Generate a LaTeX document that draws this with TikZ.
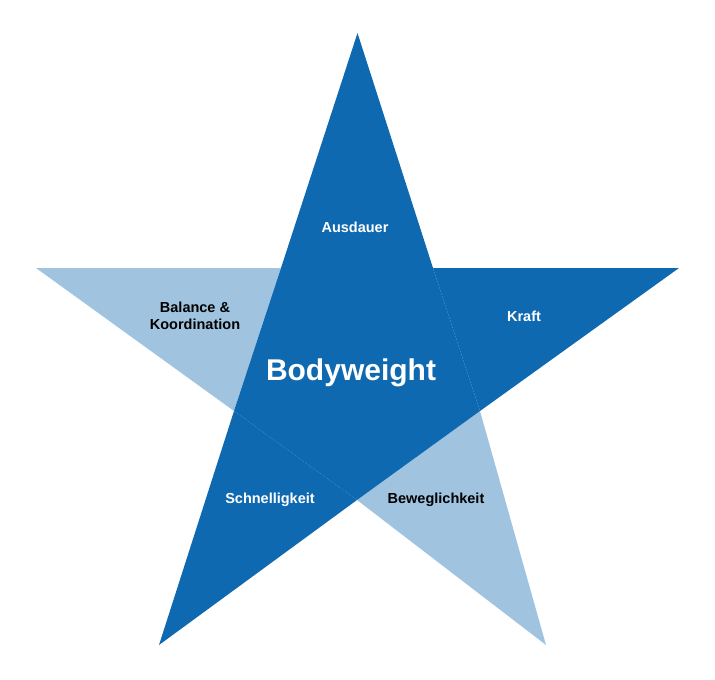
\documentclass[tikz,border=0pt]{standalone}
\usepackage{fontspec}
\setmainfont{Liberation Sans}
\definecolor{bwdark}{HTML}{0F69B0}
\definecolor{bwlight}{HTML}{A0C4E0}
\tikzset{
  dark/.style={fill=bwdark},
  light/.style={fill=bwlight},
  lbl/.style={font=\bfseries\fontsize{14.5}{17}\selectfont, align=center}
}
\begin{document}
\begin{tikzpicture}[x=1pt,y=-1pt]
      \useasboundingbox (0,0) rectangle (715,680);
      % tips and inner corners
      \coordinate (top) at (357.5,33);
      \coordinate (left) at (36,268);
      \coordinate (right) at (679,268);
      \coordinate (botl) at (159,645);
      \coordinate (botr) at (546,645);
      \coordinate (a) at (281,268);
      \coordinate (b) at (433,268);
      \coordinate (c) at (480,411);
      \coordinate (d) at (357,500);
      \coordinate (e) at (234,411);
      \begin{scope}
        \fill[dark] (top) -- (b) -- (a) -- cycle;
        \fill[dark] (right) -- (c) -- (b) -- cycle;
        \fill[light] (botr) -- (d) -- (c) -- cycle;
        \fill[dark] (botl) -- (e) -- (d) -- cycle;
        \fill[light] (left) -- (a) -- (e) -- cycle;
        \fill[dark] (a) -- (b) -- (c) -- (d) -- (e) -- cycle;
      \end{scope}
      \node[lbl, text=white] (ausdauer) at (355,227) {Ausdauer};
      \node[lbl, text=white] (kraft) at (524,316) {Kraft};
      \node[lbl, text=black] (beweg) at (436,500) {Beweglichkeit};
      \node[lbl, text=white] (schnell) at (270,500) {Schnelligkeit};
      \node[lbl, text=black] (balance) at (195,316) {Balance \&\\Koordination};
      \node[text=white, font=\bfseries\fontsize{30}{36}\selectfont] (body) at (351,373) {Bodyweight};
    \end{tikzpicture}
\end{document}
